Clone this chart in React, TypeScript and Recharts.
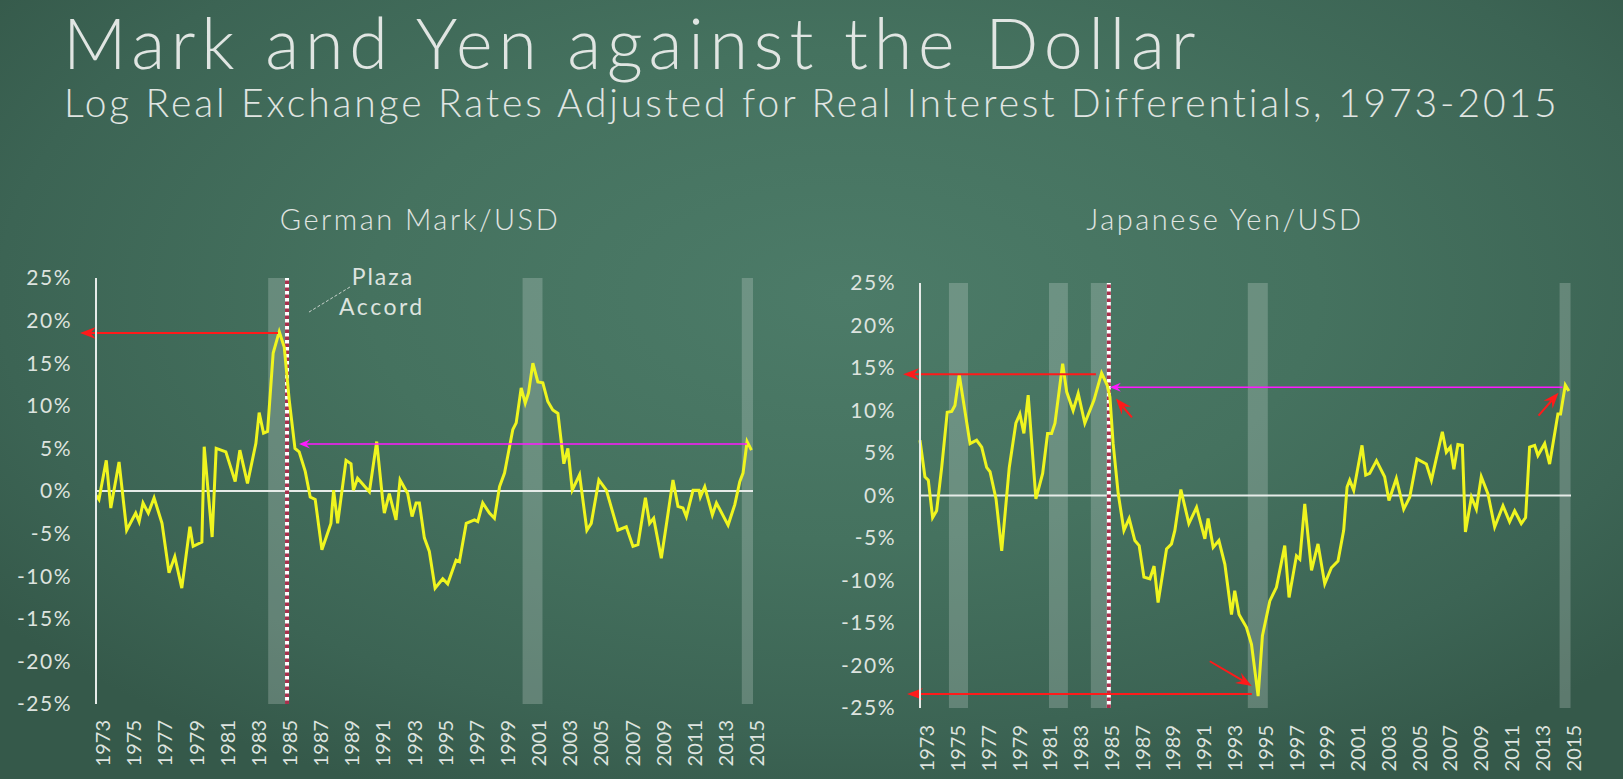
import React from "react"
import { LineChart, Line, XAxis, YAxis, ReferenceLine, ReferenceArea } from "recharts"

const markYears = [
  1973.0, 1973.19, 1973.66, 1973.95, 1974.48, 1974.97, 1975.55, 1975.77, 1976.02, 1976.36,
  1976.73, 1977.24, 1977.69, 1978.06, 1978.51, 1979.03, 1979.24, 1979.8, 1979.95, 1980.46,
  1980.72, 1981.34, 1981.94, 1982.24, 1982.73, 1983.27, 1983.48, 1983.76, 1984.02, 1984.38,
  1984.77, 1985.09, 1985.41, 1985.78, 1986.05, 1986.44, 1986.76, 1987.08, 1987.51, 1988.09,
  1988.26, 1988.52, 1989.06, 1989.38, 1989.53, 1989.8, 1990.56, 1991.03, 1991.41, 1991.52,
  1991.84, 1992.27, 1992.53, 1993.02, 1993.3, 1993.56, 1993.77, 1994.09, 1994.41, 1994.78,
  1995.27, 1995.59, 1996.13, 1996.34, 1996.78, 1997.31, 1997.52, 1997.84, 1998.27, 1998.59,
  1998.92, 1999.24, 1999.77, 1999.99, 2000.31, 2000.57, 2000.78, 2001.06, 2001.38, 2001.7,
  2002.02, 2002.34, 2002.67, 2003.05, 2003.31, 2003.59, 2004.06, 2004.53, 2004.81, 2005.3,
  2005.78, 2006.52, 2007.06, 2007.49, 2007.81, 2008.29, 2008.56, 2008.82, 2009.31, 2009.68,
  2010.06, 2010.38, 2010.7, 2010.92, 2011.35, 2011.73, 2011.82, 2012.1, 2012.59, 2012.85,
  2013.6, 2014.03, 2014.35, 2014.56, 2014.82, 2015.1,
]
const markValues = [
  -0.5, -1, 3.6, -2, 3.4, -4.6, -2.6, -3.6, -1.4, -2.6,
  -0.8, -3.8, -9.6, -7.7, -11.4, -4.2, -6.5, -6, 5.2, -5.4,
  5, 4.6, 1.1, 4.8, 0.9, 5.6, 9.2, 6.8, 7, 16.2,
  18.7, 16.9, 10.7, 5, 4.6, 2.3, -0.7, -1, -6.9, -3.8,
  0.1, -3.8, 3.6, 3.2, 0.1, 1.5, -0.1, 5.8, -1, -2.6,
  -0.3, -3.4, 1.3, -0.3, -3, -1.4, -1.4, -5.5, -7.1, -11.4,
  -10.3, -10.9, -8.1, -8.3, -3.8, -3.4, -3.6, -1.4, -2.6, -3.2,
  0.5, 2.1, 7.2, 8, 12.1, 10.3, 11.5, 15, 12.8, 12.7,
  10.5, 9.5, 9.1, 3.2, 5, 0.1, 1.9, -4.6, -3.8, 1.3,
  0.1, -4.6, -4.2, -6.5, -6.3, -0.8, -3.8, -3.2, -7.9, -3.4,
  1.3, -1.8, -2, -3, 0.1, 0.1, -0.7, 0.5, -2.8, -1.4,
  -4, -1.6, 1.1, 2.1, 5.8, 4.8,
]

// Japanese Yen / USD
const yenYears = [
  1973.0, 1973.32, 1973.54, 1973.82, 1974.08, 1974.41, 1974.77, 1975.06, 1975.27, 1975.55,
  1975.81, 1976.25, 1976.68, 1977.01, 1977.33, 1977.55, 1977.94, 1978.31, 1978.8, 1979.23,
  1979.49, 1979.75, 1980.03, 1980.53, 1980.97, 1981.29, 1981.55, 1981.77, 1982.27, 1982.53,
  1982.95, 1983.28, 1983.71, 1984.3, 1984.8, 1985.16, 1985.34, 1985.55, 1985.88, 1986.25,
  1986.59, 1986.96, 1987.24, 1987.55, 1987.94, 1988.21, 1988.47, 1989.02, 1989.34, 1989.56,
  1989.95, 1990.47, 1990.97, 1991.51, 1991.72, 1992.05, 1992.42, 1992.81, 1993.24, 1993.45,
  1993.73, 1994.21, 1994.54, 1994.97, 1995.25, 1995.73, 1996.16, 1996.7, 1996.98, 1997.46,
  1997.68, 1998.0, 1998.44, 1998.86, 1999.3, 1999.73, 2000.16, 2000.53, 2000.75, 2000.92,
  2001.18, 2001.72, 2001.96, 2002.22, 2002.66, 2003.19, 2003.47, 2003.95, 2004.43, 2004.82,
  2005.29, 2005.9, 2006.23, 2006.94, 2007.2, 2007.46, 2007.69, 2007.95, 2008.24, 2008.44,
  2008.83, 2009.15, 2009.47, 2009.9, 2010.34, 2010.88, 2011.31, 2011.64, 2012.07, 2012.35,
  2012.61, 2012.94, 2013.15, 2013.59, 2013.91, 2014.45, 2014.62, 2014.93, 2015.16,
]
const yenValues = [
  6.5, 2.2, 1.8, -2.6, -1.8, 3.3, 9.8, 9.9, 10.6, 14.2,
  11.2, 6.1, 6.5, 5.7, 3.3, 2.8, -0.4, -6.5, 3.3, 8.5,
  9.6, 7.3, 11.8, -0.4, 2.6, 7.3, 7.3, 8.5, 15.5, 12.2,
  10, 12, 8.5, 11.2, 14.4, 13, 11.6, 6.1, 0.2, -4.1,
  -2.7, -5.3, -5.9, -9.6, -9.8, -8.3, -12.6, -6.3, -5.7, -4.1,
  0.7, -3.3, -1.4, -5.1, -2.7, -6.1, -5.3, -8.1, -14, -11.2,
  -14, -15.5, -17.5, -23.6, -16.5, -12.4, -10.8, -5.9, -12, -7.1,
  -7.5, -1, -8.8, -5.7, -10.4, -8.5, -7.7, -4.1, 1, 1.8,
  0.6, 5.9, 2.4, 2.6, 4.1, 2.2, -0.6, 2, -1.6, -0.2,
  4.3, 3.7, 1.8, 7.5, 5.1, 5.7, 3.1, 6, 5.9, -4.3,
  -0.2, -1.6, 2.2, 0.2, -3.7, -1.2, -3.1, -1.8, -3.3, -2.6,
  5.7, 5.9, 4.7, 6.1, 3.7, 9.6, 9.6, 13, 12.3,
]

const yearTicks = [1973, 1975, 1977, 1979, 1981, 1983, 1985, 1987, 1989, 1991, 1993, 1995,
  1997, 1999, 2001, 2003, 2005, 2007, 2009, 2011, 2013, 2015]
const pctTicks = [-25, -20, -15, -10, -5, 0, 5, 10, 15, 20, 25]

const markBands = [[1984.06, 1985.3], [2000.4, 2001.68], [2014.48, 2015.2]]
const yenBands = [[1974.88, 1976.12], [1981.38, 1982.61], [1984.1, 1985.3], [1994.3, 1995.6], [2014.56, 2015.27]]
const plazaAccord = 1985.27

// arrows: [fromYear, fromValue, toYear, toValue]
const markRedArrows = [[1984.69, 18.54, 1971.97, 18.54]]
const markPinkArrows = [[2014.81, 5.52, 1986.04, 5.52]]
const yenRedArrows = [
  [1984.43, 14.27, 1971.9, 14.27],
  [1994.56, -23.35, 1972.16, -23.35],
  [1986.77, 9.2, 1985.73, 11.4],
  [2013.19, 9.4, 2014.49, 12.1],
  [1991.83, -19.5, 1994.56, -22.4],
]
const yenPinkArrows = [[2014.75, 12.74, 1985.34, 12.74]]
const plazaLeader = [1986.68, 21.0, 1989.31, 23.94]

const markData = markYears.map((year, i) => ({ year, value: markValues[i] }))
const yenData = yenYears.map((year, i) => ({ year, value: yenValues[i] }))

const FONT = "Lato, 'Open Sans', sans-serif"
const TEXT = "#dde3df"
const YELLOW = "#eff51f"
const RED = "#ff1a1a"
const PINK = "#ff19ff"

const arrowShape = (color: string, sw: number, head: number, half: number) => (props: any) => {
  const { x1, y1, x2, y2 } = props
  const a = Math.atan2(y2 - y1, x2 - x1)
  const ux = Math.cos(a)
  const uy = Math.sin(a)
  const bx = x2 - ux * head
  const by = y2 - uy * head
  const mx = x2 - ux * head * 0.65
  const my = y2 - uy * head * 0.65
  return (
    <g>
      <line x1={x1} y1={y1} x2={mx} y2={my} stroke={color} strokeWidth={sw} />
      <path
        d={`M${x2},${y2} L${bx - uy * half},${by + ux * half} L${mx},${my} L${bx + uy * half},${by - ux * half} Z`}
        fill={color}
      />
    </g>
  )
}

const plazaShape = (props: any) => {
  const { x1, y1, x2, y2 } = props
  return (
    <g>
      <line x1={x1} y1={y1} x2={x2} y2={y2} stroke="#c8d2cc" strokeWidth={1} strokeDasharray="3 2" />
      <text x={x2 + 33} y={y2 - 11} fill={TEXT} fontSize={23} fontFamily={FONT} textAnchor="middle" dominantBaseline="central" letterSpacing={2}>Plaza</text>
      <text x={x2 + 32} y={y2 + 19} fill={TEXT} fontSize={23} fontFamily={FONT} textAnchor="middle" dominantBaseline="central" letterSpacing={2.5}>Accord</text>
    </g>
  )
}

const Panel = ({ data, domainEnd, bands, redArrows, pinkArrows, yWidth, margin, xHeight, tickGap, plaza }) => (
  <LineChart width={780} height={529} data={data} margin={margin}>
    {bands.map(([a, b], i) => (
      <ReferenceArea key={"b" + i} x1={a} x2={b} y1={-25} y2={25} fill="#ffffff" fillOpacity={0.2} stroke="none" />
    ))}
    <XAxis
      dataKey="year"
      type="number"
      domain={[1973, domainEnd]}
      ticks={yearTicks}
      interval={0}
      axisLine={false}
      tickLine={false}
      tickSize={0}
      tickMargin={tickGap}
      height={xHeight}
      tick={{ angle: -90, textAnchor: "end", verticalAnchor: "middle", fill: TEXT, fontSize: 20, fontFamily: FONT }}
    />
    <YAxis
      type="number"
      domain={[-25, 25]}
      ticks={pctTicks}
      interval={0}
      width={yWidth}
      axisLine={{ stroke: "#e6ebe8", strokeWidth: 2 }}
      tickLine={false}
      tickSize={0}
      tickMargin={24}
      tickFormatter={(v) => `${v}%`}
      tick={{ fill: TEXT, fontSize: 21, fontFamily: FONT, letterSpacing: 1.5 }}
    />
    <ReferenceLine y={0} stroke="#e6ebe8" strokeWidth={2} />
    <ReferenceLine x={plazaAccord} stroke="#ffffff" strokeWidth={4} />
    <ReferenceLine x={plazaAccord} stroke="#a8304c" strokeWidth={4} strokeDasharray="3.5 3.5" />
    <Line type="linear" dataKey="value" stroke={YELLOW} strokeWidth={3} dot={false} isAnimationActive={false} />
    {redArrows.map(([a, b, c, d], i) => (
      <ReferenceLine key={"r" + i} segment={[{ x: a, y: b }, { x: c, y: d }]} ifOverflow="visible" shape={arrowShape(RED, 2, 16, 6)} />
    ))}
    {pinkArrows.map(([a, b, c, d], i) => (
      <ReferenceLine key={"p" + i} segment={[{ x: a, y: b }, { x: c, y: d }]} ifOverflow="visible" shape={arrowShape(PINK, 1.5, 11, 4.5)} />
    ))}
    {plaza && (
      <ReferenceLine
        segment={[{ x: plazaLeader[0], y: plazaLeader[1] }, { x: plazaLeader[2], y: plazaLeader[3] }]}
        ifOverflow="visible"
        shape={plazaShape}
      />
    )}
  </LineChart>
)

export default function App() {
  return (
    <div
      style={{
        position: "absolute",
        left: 0,
        top: 0,
        width: 1623,
        height: 779,
        overflow: "hidden",
        background:
          "radial-gradient(ellipse 65% 70% at 52% 38%, #4c7b68 0%, #45725f 45%, #3c6454 80%, #35594a 100%)",
      }}
    >
      <svg width={1623} height={250} style={{ position: "absolute", left: 0, top: 0 }}>
        <text x={63} y={69} fill="#e0e5e2" fontSize={70} fontFamily={FONT} fontWeight={300} letterSpacing={5.8}>
          Mark and Yen against the Dollar
        </text>
        <text x={64} y={117} fill="#e0e5e2" fontSize={39} fontFamily={FONT} fontWeight={300} letterSpacing={2.9}>
          Log Real Exchange Rates Adjusted for Real Interest Differentials, 1973-2015
        </text>
        <text x={420} y={230} fill="#e0e5e2" fontSize={29} fontFamily={FONT} fontWeight={300} textAnchor="middle" letterSpacing={2.5}>
          German Mark/USD
        </text>
        <text x={1225} y={230} fill="#e0e5e2" fontSize={29} fontFamily={FONT} fontWeight={300} textAnchor="middle" letterSpacing={2.5}>
          Japanese Yen/USD
        </text>
      </svg>
      <div style={{ position: "absolute", left: 0, top: 250 }}>
        <Panel
          data={markData}
          domainEnd={2015.2}
          bands={markBands}
          redArrows={markRedArrows}
          pinkArrows={markPinkArrows}
          yWidth={96}
          margin={{ top: 28, right: 27, bottom: 0, left: 0 }}
          xHeight={75}
          tickGap={16}
          plaza={true}
        />
      </div>
      <div style={{ position: "absolute", left: 820, top: 250 }}>
        <Panel
          data={yenData}
          domainEnd={2015.3}
          bands={yenBands}
          redArrows={yenRedArrows}
          pinkArrows={yenPinkArrows}
          yWidth={100}
          margin={{ top: 33, right: 29, bottom: 0, left: 0 }}
          xHeight={71}
          tickGap={17}
          plaza={false}
        />
      </div>
    </div>
  )
}
